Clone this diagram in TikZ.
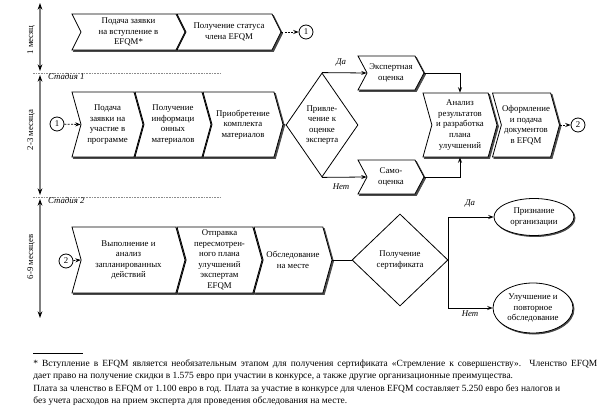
\documentclass[tikz,border=0pt]{standalone}
\usepackage{fontspec}
\setmainfont{Liberation Serif}
\usetikzlibrary{shapes.symbols,shapes.geometric,shadows,arrows.meta}

\tikzset{every picture/.style={line width=0.6pt}}
\tikzset{
  chev/.style={signal, signal to=east, signal from=west, draw, fill=white,
    align=center, inner sep=0.5pt, font=\fontsize{6.6}{7.9}\selectfont,
    copy shadow={shadow xshift=1.1pt, shadow yshift=-1.1pt, fill=black!70, draw=black!70}},
  box/.style 2 args={minimum width=#1*0.75pt, minimum height=#2*0.75pt},
  decide/.style={diamond, draw, fill=white, align=center, inner sep=0pt,
    font=\fontsize{6.6}{7.9}\selectfont},
  outcome/.style={ellipse, draw, fill=white, align=center, inner sep=0pt,
    font=\fontsize{6.6}{7.9}\selectfont,
    copy shadow={shadow xshift=0.8pt, shadow yshift=-0.8pt, fill=black!70, draw=black!70}},
  linkcirc/.style={circle, draw, fill=white, inner sep=0pt, minimum size=10.5pt,
    font=\fontsize{6.6}{7.9}\selectfont},
  flow/.style={-{Stealth[length=4pt,width=3pt]}},
  jump/.style={flow, dash pattern=on 1.5pt off 1pt},
  period/.style={draw=black!50, line width=1.4pt,
    {Stealth[color=black,length=5pt,width=3.5pt]}-{Stealth[color=black,length=5pt,width=3.5pt]}},
  stagesep/.style={draw=black!45, line width=0.5pt, dash pattern=on 1.2pt off 0.8pt},
  answer/.style={font=\itshape\fontsize{6.6}{7.9}\selectfont, inner sep=0.5pt},
  note/.style={anchor=west, inner sep=0pt, font=\fontsize{7.1}{9}\selectfont}
}

\begin{document}
\begin{tikzpicture}[x=0.75pt,y=0.75pt,yscale=-1,xscale=1]
\useasboundingbox (0,0) rectangle (608,416);

%Time scale
\draw [period] (40,3) -- (40,71);
\draw [period] (40,75) -- (40,195);
\draw [period] (40,199) -- (40,318);
\draw [stagesep] (33,73) -- (222,73);
\draw [stagesep] (33,197) -- (222,197);
% Text Node
\draw (31,40) node [rotate=90, inner sep=0pt, font=\fontsize{6.6}{7.9}\selectfont] {1 месяц};
\draw (31,130) node [rotate=90, inner sep=0pt, font=\fontsize{6.6}{7.9}\selectfont] {2-3 месяца};
\draw (31,257) node [rotate=90, inner sep=0pt, font=\fontsize{6.6}{7.9}\selectfont] {6-9 месяцев};
\draw (47,77) node [anchor=west, answer] {Стадия 1};
\draw (47,201) node [anchor=west, answer] {Стадия 2};

%Membership
\node [chev, box={113}{36}, signal pointer angle=127] (join) at (128.5,32) {Подача заявки\\на вступление в\\EFQM*};
\node [chev, box={104}{36}, signal pointer angle=127] (status) at (229,32) {Получение статуса\\члена EFQM};
\node [linkcirc] (out1) at (306,32) {1};
\draw [jump] (status.east) -- (out1);

%Stage 1
\node [linkcirc] (in1) at (57,124) {1};
\node [chev, box={71}{65}, signal pointer angle=149] (apply) at (107.5,124.5) {Подача\\заявки на\\участие в\\программе};
\node [chev, box={76}{65}, signal pointer angle=149] (info) at (173,124.5) {Получение\\информаци\\онных\\материалов};
\node [chev, box={80}{65}, signal pointer angle=149] (kit) at (243,124.5) {Приобретение\\комплекта\\материалов};
\node [decide, box={72}{104}] (expdec) at (322,125) {Привле-\\чение к\\оценке\\эксперта};
\node [chev, box={66}{34}, signal pointer angle=124] (expert) at (391,73) {Экспертная\\оценка};
\node [chev, box={66}{34}, signal pointer angle=124] (self) at (391,177) {Само-\\оценка};
\node [chev, box={74}{64}, signal pointer angle=149] (analysis) at (460,125) {Анализ\\результатов\\и разработка\\плана\\улучшений};
\node [chev, box={66}{64}, signal pointer angle=149] (docs) at (526,125) {Оформление\\и подача\\документов\\в EFQM};
\node [linkcirc] (out2) at (578,125) {2};

\draw [jump] (in1) -- (apply.west);
\draw (kit.east) -- (expdec.west);
\draw [flow] (expdec.north) -- (expert.west);
\draw [flow] (expdec.south) -- (self.west);
\draw [flow] (expert.east) -| (analysis.north);
\draw [flow] (self.east) -| (analysis.south);
\draw [jump] (docs.east) -- (out2);
\draw (341,63) node [answer] {Да};
\draw (341,187) node [answer] {Нет};

%Stage 2
\node [linkcirc] (in2) at (66,261) {2};
\node [chev, box={113}{66}, signal pointer angle=149] (perform) at (128.5,260) {Выполнение и\\анализ\\запланированных\\действий};
\node [chev, box={85}{66}, signal pointer angle=149] (send) at (219.5,260) {Отправка\\пересмотрен-\\ного плана\\улучшений\\экспертам\\EFQM};
\node [chev, box={78}{66}, signal pointer angle=149] (visit) at (293,260) {Обследование\\на месте};
\node [decide, box={96}{92}] (certdec) at (400,260) {Получение\\сертификата};
\node [outcome, box={80}{37}] (recog) at (534,217) {Признание\\организации};
\node [outcome, box={80}{50}] (improve) at (533,308) {Улучшение и\\повторное\\обследование};

\draw [jump] (in2) -- (perform.west);
\draw (visit.east) -- (certdec.west);
\draw [flow] (certdec.east) |- (recog.west);
\draw [flow] (certdec.east) |- (improve.west);
\draw (470,204) node [answer] {Да};
\draw (470,314) node [answer] {Нет};

%Footnote
\draw [line width=0.4pt] (33,353) -- (83,353);
\draw (33,364) node [note] {\makebox[423pt][s]{* Вступление в EFQM является необязательным этапом для получения сертификата «Стремление к совершенству». Членство EFQM}};
\draw (33,376) node [note] {дает право на получение скидки в 1.575 евро при участии в конкурсе, а также другие организационные преимущества.};
\draw (33,389) node [note] {Плата за членство в EFQM от 1.100 евро в год. Плата за участие в конкурсе для членов EFQM составляет 5.250 евро без налогов и};
\draw (33,401) node [note] {без учета расходов на прием эксперта для проведения обследования на месте.};

\end{tikzpicture}
\end{document}
